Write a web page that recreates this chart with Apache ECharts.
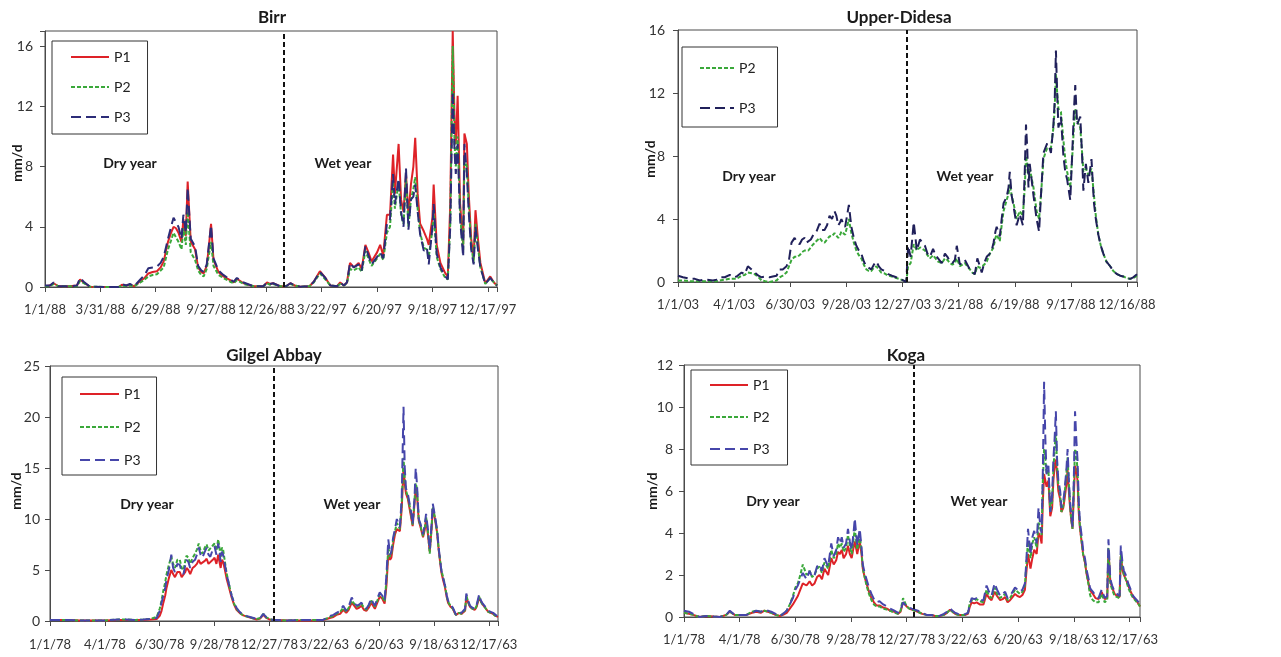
<!DOCTYPE html>
<html>
<head>
<meta charset="utf-8">
<title>Daily flow P1 P2 P3 - dry and wet year</title>
<script src="https://cdn.jsdelivr.net/npm/echarts@6/dist/echarts.min.js"></script>
<style>
  html, body { margin: 0; padding: 0; background: #fff; }
  #main { width: 1281px; height: 657px; }
</style>
</head>
<body>
<div id="main"></div>
<script>
// tick labels (one every 90 days, dry year followed by wet year)
const birrTicks = ['1/1/88', '3/31/88', '6/29/88', '9/27/88', '12/26/88', '3/22/97', '6/20/97', '9/18/97', '12/17/97'];
const didesaTicks = ['1/1/03', '4/1/03', '6/30/03', '9/28/03', '12/27/03', '3/21/88', '6/19/88', '9/17/88', '12/16/88'];
const gilgelTicks = ['1/1/78', '4/1/78', '6/30/78', '9/28/78', '12/27/78', '3/22/63', '6/20/63', '9/18/63', '12/17/63'];
const kogaTicks = ['1/1/78', '4/1/78', '6/30/78', '9/28/78', '12/27/78', '3/22/63', '6/20/63', '9/18/63', '12/17/63'];

// ---- Birr ----
const birrDays = [0,8,14,22,40,52,57,63,73,100,120,125,132,138,145,155,162,168,175,182,188,193,200,205,209,213,217,222,225,229,232,237,244,249,254,258,263,266,270,274,282,290,301,307,312,323,339,355,361,366,371,382,392,399,406,415,430,437,447,456,464,475,480,486,491,496,502,510,515,521,526,531,540,545,550,556,561,566,569,575,579,583,587,591,595,599,602,606,610,616,621,624,630,632,637,643,651,655,659,663,666,668,671,675,680,682,686,689,693,697,700,704,708,716,724,730,735];
const birrP1 = [0.05,0.1,0.25,0.05,0.05,0.1,0.5,0.3,0.02,0,
  0,0.15,0.1,0.15,0.05,0.4,0.6,0.9,1.0,1.05,
  1.3,1.7,3.0,3.6,4.0,3.9,3.6,3.0,4.5,3.4,
  7.0,3.0,2.5,1.3,1.0,0.9,1.4,2.5,4.2,1.8,
  1.0,0.7,0.45,0.3,0.55,0.25,0.05,0.05,0.3,0.2,
  0.25,0.05,0.05,0.25,0.1,0.02,0.05,0.35,1.05,0.6,
  0.1,0.05,0.3,0.1,0.3,1.6,1.3,1.6,1.2,2.8,
  2.3,1.7,2.3,2.8,2.1,4.8,4.8,8.8,6.2,9.5,
  5.8,5.0,7.5,4.8,6.8,8.0,9.9,6.2,4.2,3.7,
  3.2,2.8,4.6,6.8,2.8,1.6,0.9,0.7,5.5,17.0,
  11.0,9.5,12.7,5.5,2.8,10.2,9.5,6.2,3.2,1.9,
  5.1,3.2,1.6,0.25,0.7,0.3,0.1];
const birrP2 = [0.05,0.05,0.2,0.05,0.05,0.05,0.4,0.25,0.02,0,
  0,0.1,0.05,0.1,0.05,0.3,0.5,0.7,0.8,0.85,
  1.1,1.3,2.5,3.1,3.6,3.3,3.0,2.5,3.9,2.8,
  5.0,2.3,1.8,1.1,0.8,0.7,1.2,2.0,3.0,1.4,
  0.8,0.6,0.35,0.25,0.45,0.2,0.05,0.05,0.25,0.15,
  0.2,0.05,0.05,0.2,0.1,0.02,0.05,0.3,0.9,0.5,
  0.1,0.05,0.2,0.1,0.25,1.2,1.1,1.3,1.0,2.4,
  1.9,1.4,1.9,2.2,1.8,3.6,4.0,7.0,5.2,7.0,
  4.8,4.2,7.2,4.0,5.8,6.5,7.3,5.2,3.6,2.6,
  2.5,2.0,3.8,5.0,2.0,1.2,0.6,0.5,4.2,16.0,
  9.5,8.0,10.0,4.8,2.3,8.5,8.0,5.5,2.8,1.6,
  4.2,2.7,1.3,0.2,0.6,0.3,0.1];
const birrP3 = [0.1,0.1,0.3,0.05,0.05,0.1,0.6,0.35,0.02,0,
  0,0.2,0.1,0.2,0.05,0.5,0.8,1.25,1.3,1.35,
  1.6,2.0,3.2,4.0,4.6,4.3,4.0,3.2,4.8,3.6,
  6.6,3.2,2.7,1.4,1.1,1.0,1.5,2.6,4.1,1.9,
  1.1,0.8,0.5,0.35,0.6,0.3,0.05,0.05,0.3,0.2,
  0.25,0.05,0.05,0.25,0.1,0.02,0.05,0.35,1.0,0.6,
  0.1,0.05,0.3,0.1,0.3,1.6,1.3,1.5,1.1,2.7,
  2.1,1.5,2.0,2.3,1.9,4.2,4.5,7.5,5.5,7.2,
  5.0,4.0,7.9,3.8,5.8,6.0,6.8,5.0,3.5,2.4,
  2.6,1.5,4.0,5.5,2.2,1.3,0.7,0.5,4.0,13.0,
  9.0,7.5,9.5,4.5,2.0,9.5,7.5,5.0,2.5,1.5,
  4.0,2.5,1.3,0.2,0.6,0.3,0.1];

// ---- Upper-Didesa ----
const didesaDays = [0,8,19,27,35,45,56,62,67,75,83,89,94,102,107,112,118,123,129,134,140,147,152,158,163,168,174,178,182,187,191,195,199,203,206,209,213,217,222,227,231,235,239,243,247,251,254,257,260,262,265,268,271,274,278,282,286,290,294,298,302,306,310,314,318,322,326,331,337,343,350,355,361,366,369,373,378,383,388,392,396,400,404,409,413,417,423,428,432,436,440,444,447,452,456,460,464,468,472,476,480,484,487,491,495,500,503,506,509,511,516,519,522,527,530,532,535,538,543,548,553,556,558,560,562,564,567,570,575,579,582,586,589,592,595,598,602,604,606,608,610,614,618,621,624,629,633,635,637,640,645,648,650,654,658,663,667,670,674,678,682,687,693,698,704,709,714,720,725,730,733,736];
const didesaP2 = [0.1,0.1,0.05,0.05,0.05,0.05,0.05,0.05,0.1,0.15,
  0.2,0.2,0.2,0.4,0.45,0.6,0.55,0.5,0.3,0.1,
  0.05,0.0,0.05,0.1,0.3,0.4,0.6,1.0,1.4,1.6,
  1.6,1.7,1.9,2.0,1.9,2.0,2.2,2.4,2.6,2.8,
  2.6,2.5,2.7,2.9,2.9,3.1,3.0,2.8,3.0,3.2,
  3.1,3.0,3.5,4.0,3.1,2.5,2.0,1.7,1.5,1.1,
  0.8,0.7,0.7,0.9,1.0,0.8,0.6,0.55,0.4,0.35,
  0.25,0.2,0.1,0.0,1.0,1.2,2.4,2.0,2.2,2.1,
  2.0,1.7,1.5,1.7,1.5,1.3,1.2,1.5,1.4,1.2,
  1.1,1.2,1.5,1.0,1.1,1.2,1.0,0.8,0.6,0.5,
  1.0,0.9,0.8,1.1,1.3,1.8,2.0,2.2,2.8,3.0,
  2.6,3.6,4.5,5.2,5.6,6.2,5.5,5.0,4.0,4.5,
  4.2,6.0,8.0,7.5,6.8,7.2,6.6,6.0,4.5,4.0,
  5.5,7.8,8.2,8.5,8.6,8.5,9.8,11.0,13.2,12.0,
  11.0,10.8,9.0,7.8,7.0,6.0,8.5,10.0,11.0,10.2,
  9.8,8.2,7.0,7.2,6.8,7.2,5.5,4.2,3.0,2.3,
  1.8,1.3,1.0,0.7,0.5,0.4,0.35,0.25,0.2,0.25,
  0.3,0.4];
const didesaP3 = [0.4,0.3,0.2,0.2,0.1,0.15,0.1,0.15,0.3,0.3,
  0.45,0.3,0.35,0.6,0.5,1.0,0.8,0.6,0.4,0.3,
  0.35,0.3,0.35,0.4,0.8,0.8,1.0,1.4,2.5,2.8,
  2.5,2.4,2.7,2.8,2.5,2.6,2.7,3.0,3.2,3.7,
  3.3,3.3,3.6,4.2,4.0,4.5,4.2,3.6,3.8,4.0,
  3.7,3.5,4.2,4.9,3.5,2.8,2.3,2.0,1.8,1.3,
  1.0,0.9,0.8,1.1,1.3,1.0,0.8,0.7,0.5,0.4,
  0.3,0.25,0.1,0.0,2.3,1.6,3.8,2.0,2.7,2.5,
  2.3,1.8,1.6,2.1,1.7,1.5,1.2,1.8,1.6,1.3,
  1.2,1.4,2.3,1.1,1.3,1.4,1.1,0.8,0.6,0.5,
  1.5,1.0,0.6,1.2,1.6,1.8,2.0,2.5,3.2,3.5,
  2.9,4.0,5.0,5.4,6.0,7.0,5.5,4.8,3.6,4.3,
  3.6,7.0,10.0,8.5,6.0,7.5,6.5,5.5,4.0,3.2,
  5.5,8.2,8.5,8.8,8.6,8.2,10.0,11.5,14.7,12.0,
  9.8,10.5,8.0,7.0,6.5,5.2,9.0,11.0,12.5,10.0,
  10.5,8.0,5.8,7.5,6.3,7.8,5.0,4.0,3.0,2.3,
  1.8,1.3,1.0,0.7,0.5,0.4,0.35,0.25,0.2,0.3,
  0.35,0.5];

// ---- Gilgel Abbay ----
const gilgelDays = [0,15,30,50,70,90,112,125,140,153,165,175,180,183,186,189,191,195,199,202,205,209,213,216,219,222,224,227,230,234,238,241,244,247,250,254,257,260,263,267,270,273,276,278,280,282,284,287,290,294,298,302,306,311,317,322,328,334,339,345,350,355,360,366,372,390,410,430,448,454,459,465,470,476,481,486,490,495,499,503,507,511,515,519,523,527,530,533,537,541,545,549,552,555,558,560,563,566,569,572,574,577,580,582,584,587,590,593,595,598,600,602,605,608,612,615,617,620,623,626,628,631,635,638,642,645,648,651,653,657,661,664,666,669,671,675,678,681,683,686,689,693,697,700,704,707,710,714,719,723,727,731,735];
const gilgelP1 = [0.1,0.1,0.1,0.05,0.05,0.05,0.1,0.1,0.1,0.1,
  0.15,0.2,0.5,1.0,1.8,2.5,3.2,4.2,5.0,4.6,
  4.3,4.8,4.8,4.3,4.2,4.8,5.2,5.0,4.6,5.2,
  5.4,5.6,6.0,5.6,5.5,5.9,6.1,5.6,5.5,6.0,
  6.2,5.6,6.5,5.8,5.2,6.0,5.8,5.0,4.1,3.2,
  2.3,1.6,1.1,0.8,0.55,0.45,0.35,0.25,0.15,0.25,
  0.6,0.3,0.15,0.1,0.1,0.05,0.05,0.05,0.1,0.2,
  0.3,0.4,0.6,0.7,1.1,0.8,1.1,1.8,1.5,1.2,
  1.3,1.5,1.1,1.0,1.3,1.8,1.5,1.2,1.8,2.4,
  2.2,1.7,3.5,6.5,6.0,6.2,7.5,8.5,9.0,9.0,
  8.8,11.0,15.0,13.5,12.5,12.0,11.0,10.0,9.3,11.5,
  13.0,12.5,9.8,9.2,8.2,9.0,10.0,8.5,6.8,9.0,
  11.0,10.2,8.7,6.8,4.8,4.0,3.3,2.3,1.8,1.4,
  1.2,0.8,0.6,0.7,0.8,0.7,0.6,1.0,2.4,1.8,
  1.4,1.2,1.1,1.4,2.3,1.9,1.6,1.3,0.9,0.8,
  0.7,0.5,0.4];
const gilgelP2 = [0.1,0.1,0.1,0.05,0.05,0.05,0.15,0.15,0.1,0.15,
  0.2,0.4,1.2,2.0,3.0,3.8,4.5,5.5,6.3,5.6,
  5.2,6.0,6.0,5.2,5.0,5.9,6.4,6.2,5.6,6.2,
  6.6,7.0,7.6,6.9,6.6,7.2,7.5,6.9,6.8,7.4,
  7.6,6.9,8.0,7.2,6.2,7.2,7.0,5.8,4.6,3.5,
  2.5,1.7,1.2,0.8,0.55,0.45,0.35,0.25,0.2,0.3,
  0.7,0.35,0.2,0.1,0.1,0.05,0.1,0.1,0.1,0.25,
  0.4,0.5,0.7,0.9,1.3,0.9,1.3,2.0,1.7,1.4,
  1.5,1.7,1.3,1.1,1.5,2.0,1.7,1.4,2.0,2.6,
  2.4,1.9,4.0,7.2,6.3,6.6,8.0,8.8,9.6,9.3,
  9.0,11.5,16.0,14.0,12.8,12.2,11.3,10.2,9.4,11.8,
  13.5,13.0,9.9,9.3,8.3,9.2,10.2,8.8,6.6,9.2,
  11.2,10.3,8.8,6.9,5.0,4.3,3.5,2.4,1.9,1.5,
  1.2,0.8,0.6,0.7,0.8,0.7,0.6,1.1,2.5,1.9,
  1.4,1.2,1.1,1.5,2.4,1.9,1.6,1.3,0.9,0.8,
  0.7,0.5,0.4];
const gilgelP3 = [0.1,0.1,0.1,0.05,0.05,0.05,0.15,0.15,0.1,0.15,
  0.2,0.3,1.0,1.8,2.5,3.2,4.0,5.0,6.5,5.2,
  4.8,5.6,5.5,4.8,4.6,5.5,6.0,5.8,5.2,5.8,
  6.0,6.5,7.2,6.5,6.2,6.8,7.2,6.5,6.3,7.0,
  7.3,6.5,7.6,6.8,5.8,6.8,6.5,5.5,4.5,3.5,
  2.5,1.8,1.3,0.9,0.6,0.5,0.4,0.3,0.2,0.3,
  0.7,0.35,0.2,0.1,0.1,0.05,0.1,0.1,0.1,0.3,
  0.5,0.6,0.8,1.0,1.5,1.0,1.4,2.3,1.8,1.5,
  1.6,1.8,1.4,1.2,1.6,2.2,1.8,1.5,2.2,2.8,
  2.5,2.0,4.5,8.0,6.5,6.8,8.2,9.0,10.0,9.5,
  9.2,12.0,21.0,15.0,13.0,12.5,11.5,10.5,9.5,12.0,
  15.0,13.5,10.0,9.5,8.5,9.5,10.5,9.0,7.0,9.5,
  11.5,10.5,9.0,7.0,5.0,4.2,3.5,2.5,2.0,1.6,
  1.3,0.9,0.6,0.8,0.9,0.8,0.7,1.2,2.7,2.0,
  1.5,1.3,1.2,1.6,2.6,2.0,1.7,1.4,1.0,0.9,
  0.8,0.6,0.4];

// ---- Koga ----
const kogaDays = [0,8,15,25,36,48,58,68,74,82,92,101,110,117,124,130,141,148,155,160,166,171,176,180,184,188,192,198,203,207,211,215,219,223,227,233,238,242,246,249,252,255,258,262,265,268,271,274,276,280,284,287,289,292,295,299,303,307,311,316,322,328,333,340,346,350,354,357,360,364,368,373,378,385,392,400,406,413,420,425,430,434,438,443,449,455,459,462,465,469,473,478,484,489,493,497,502,506,511,515,519,523,527,531,535,539,543,547,551,553,556,560,563,566,570,573,576,578,580,582,584,586,589,592,595,597,599,601,603,605,608,610,613,615,618,620,622,624,626,628,630,632,634,636,638,640,643,645,648,651,654,656,658,661,665,670,675,680,684,686,689,692,696,700,704,706,709,711,714,718,722,726,729,732,735,737];
const kogaP1 = [0.2,0.15,0.1,0.0,0.05,0.02,0.0,0.1,0.25,0.1,
  0.1,0.1,0.2,0.25,0.2,0.3,0.2,0.1,0.05,0.1,
  0.2,0.4,0.6,0.8,1.0,1.3,1.6,1.5,1.7,1.5,
  1.6,1.9,2.0,1.8,2.3,2.0,2.8,2.5,2.7,3.1,
  3.0,3.2,2.8,3.0,3.4,3.0,2.8,3.3,3.6,3.0,
  3.6,3.0,2.3,1.9,1.6,1.2,0.9,0.7,0.55,0.55,
  0.45,0.4,0.3,0.25,0.15,0.25,0.7,0.6,0.5,0.4,
  0.35,0.3,0.25,0.15,0.1,0.1,0.05,0.05,0.1,0.2,
  0.35,0.25,0.15,0.1,0.1,0.1,0.15,0.5,0.7,0.65,
  0.7,0.6,0.6,1.1,0.9,0.8,1.2,1.0,0.8,0.85,
  0.95,0.7,0.8,0.95,1.1,1.0,0.95,1.05,1.3,2.0,
  3.0,2.3,2.8,3.2,3.0,4.0,3.8,3.5,5.5,6.8,
  6.5,6.2,6.5,4.8,5.2,6.5,7.2,7.5,6.8,6.0,
  5.6,5.0,5.2,5.6,6.3,7.0,6.0,5.2,4.6,4.2,
  5.8,7.2,7.0,6.5,5.0,4.2,3.5,3.0,2.6,2.0,
  1.6,1.3,1.2,1.1,0.9,0.85,1.2,0.85,0.9,3.2,
  1.7,1.4,1.1,1.0,0.95,2.9,2.2,2.0,1.8,1.5,
  1.2,0.95,0.85,0.75,0.6,0.5];
const kogaP2 = [0.2,0.15,0.1,0.0,0.05,0.02,0.0,0.1,0.25,0.1,
  0.1,0.1,0.25,0.3,0.25,0.3,0.2,0.1,0.05,0.15,
  0.3,0.6,1.0,1.4,1.6,2.0,2.5,2.0,2.2,1.9,
  2.0,2.3,2.4,2.1,2.6,2.3,3.2,2.8,3.0,3.5,
  3.3,3.5,3.1,3.3,3.9,3.4,3.0,3.7,4.2,3.2,
  3.9,3.1,2.3,1.9,1.5,1.1,0.8,0.6,0.5,0.5,
  0.4,0.35,0.3,0.2,0.15,0.3,0.9,0.7,0.5,0.4,
  0.35,0.3,0.25,0.15,0.1,0.1,0.05,0.05,0.1,0.2,
  0.35,0.25,0.15,0.1,0.1,0.1,0.2,0.7,0.8,0.8,
  0.85,0.75,0.7,1.3,1.0,0.9,1.4,1.1,0.9,1.0,
  1.1,0.8,0.9,1.1,1.3,1.2,1.1,1.2,1.5,2.4,
  3.6,2.8,3.5,3.8,3.3,4.5,4.2,3.9,6.5,8.0,
  7.5,6.8,7.0,5.0,5.5,7.0,8.0,8.8,7.2,6.3,
  5.8,5.0,5.3,5.8,6.8,7.6,6.3,5.3,4.6,4.2,
  6.2,8.0,7.8,7.0,5.2,4.3,3.5,3.0,2.6,2.0,
  1.5,1.1,0.9,0.8,0.7,0.7,1.1,0.7,0.8,3.3,
  1.6,1.3,1.0,0.95,0.9,3.0,2.3,2.0,1.8,1.4,
  1.1,0.9,0.8,0.7,0.6,0.5];
const kogaP3 = [0.3,0.25,0.15,0.0,0.05,0.02,0.0,0.1,0.3,0.1,
  0.1,0.1,0.2,0.3,0.25,0.35,0.25,0.15,0.05,0.15,
  0.3,0.6,0.9,1.3,1.5,1.8,2.1,1.8,2.2,1.9,
  2.0,2.4,2.5,2.2,2.8,2.4,3.5,2.9,3.2,3.8,
  3.5,3.8,3.3,3.5,4.2,3.6,3.2,4.0,4.7,3.4,
  4.2,3.3,2.5,2.1,1.8,1.4,1.1,0.85,0.7,0.75,
  0.6,0.5,0.4,0.3,0.2,0.3,0.7,0.6,0.5,0.45,
  0.4,0.35,0.3,0.2,0.1,0.1,0.05,0.05,0.15,0.25,
  0.4,0.3,0.2,0.15,0.1,0.15,0.2,0.6,0.9,0.85,
  0.9,0.8,0.8,1.5,1.2,1.0,1.6,1.3,1.0,1.1,
  1.2,0.9,1.0,1.2,1.4,1.3,1.2,1.3,1.6,2.5,
  4.2,3.0,3.8,4.1,3.5,5.2,4.3,4.0,7.0,11.2,
  8.5,6.8,7.2,5.0,5.8,7.5,8.5,9.8,7.5,6.5,
  6.0,5.2,5.5,6.0,7.0,8.0,6.5,5.5,4.8,4.3,
  6.5,9.8,8.5,7.5,5.5,4.5,3.8,3.2,2.8,2.2,
  1.8,1.4,1.3,1.2,1.0,0.9,1.3,0.9,1.0,3.7,
  1.8,1.5,1.2,1.1,1.0,3.4,2.5,2.2,2.0,1.6,
  1.3,1.0,0.9,0.8,0.7,0.6];

const FONT = 'Lato, "Open Sans", "Liberation Sans", sans-serif';

// line look per scenario
const lineLook = {
  P1: { color: '#de2228', type: 'solid' },
  P2: { color: '#3aa83a', type: [4, 2] },
  P3: { color: '#34348e', type: [10, 5] }
};

const panels = [
  {
    key: 'Birr', title: 'Birr', ticks: birrTicks, days: birrDays,
    lines: [['P1', birrP1], ['P2', birrP2], ['P3', birrP3]],
    xmax: 735, ymax: 17, yint: 4, split: 389, p3: '#2c2c78',
    box: [45, 31, 452, 256], xMargin: 16, yMargin: 12,
    legend: { left: 52, top: 41, padding: [9, 17, 10, 18], gap: 16, w: 38 },
    titlePos: [272, 18], dryPos: [130, 163], wetPos: [343, 163], unitPos: [17, 163]
  },
  {
    key: 'Didesa', title: 'Upper-Didesa', ticks: didesaTicks, days: didesaDays,
    lines: [['P2', didesaP2], ['P3', didesaP3]],
    xmax: 736, ymax: 16, yint: 4, split: 366, p3: '#20205a',
    box: [678, 30, 459, 252], xMargin: 16, yMargin: 13,
    legend: { left: 682, top: 47, padding: [14, 22, 12, 17], gap: 26, w: 34 },
    titlePos: [899, 18], dryPos: [749, 176], wetPos: [965, 176], unitPos: [650, 159]
  },
  {
    key: 'Gilgel', title: 'Gilgel Abbay', ticks: gilgelTicks, days: gilgelDays,
    lines: [['P1', gilgelP1], ['P2', gilgelP2], ['P3', gilgelP3]],
    xmax: 735, ymax: 25, yint: 5, split: 367, p3: '#4646aa',
    box: [50, 366, 448, 255], xMargin: 17, yMargin: 10,
    legend: { left: 62, top: 377, padding: [10, 16, 8, 17], gap: 19, w: 39 },
    titlePos: [274, 356], dryPos: [147, 504], wetPos: [352, 504], unitPos: [16, 491]
  },
  {
    key: 'Koga', title: 'Koga', ticks: kogaTicks, days: kogaDays,
    lines: [['P1', kogaP1], ['P2', kogaP2], ['P3', kogaP3]],
    xmax: 737, ymax: 12, yint: 2, split: 371, p3: '#4646aa',
    box: [684, 365, 456, 252], xMargin: 16, yMargin: 11,
    legend: { left: 691, top: 370, padding: [8, 18, 9, 18], gap: 18, w: 38 },
    titlePos: [906, 356], dryPos: [773, 501], wetPos: [979, 501], unitPos: [652, 491]
  }
];

const grids = [], xAxes = [], yAxes = [], series = [], legends = [], graphics = [];

function txt(pos, text, size, rot) {
  return {
    type: 'text', x: pos[0], y: pos[1], z: 100, rotation: rot || 0,
    style: { text: text, fill: '#1a1a1a', font: 'bold ' + size + 'px ' + FONT, textAlign: 'center', textVerticalAlign: 'middle' }
  };
}

panels.forEach((p, k) => {
  grids.push({
    left: p.box[0], top: p.box[1], width: p.box[2], height: p.box[3],
    show: true, borderColor: '#4a4a4a', borderWidth: 1, containLabel: false
  });
  xAxes.push({
    gridIndex: k, type: 'value', min: 0, max: p.xmax, interval: 90,
    axisLine: { show: true, onZero: false, lineStyle: { color: '#4a4a4a' } },
    axisTick: { show: true, length: 5, lineStyle: { color: '#4a4a4a' } },
    splitLine: { show: false },
    axisLabel: {
      margin: p.xMargin, color: '#333', fontSize: 13, fontFamily: FONT,
      formatter: v => (v % 90 === 0 ? p.ticks[v / 90] : '')
    }
  });
  yAxes.push({
    gridIndex: k, type: 'value', min: 0, max: p.ymax, interval: p.yint,
    axisLine: { show: true, lineStyle: { color: '#4a4a4a' } },
    axisTick: { show: true, length: 5, lineStyle: { color: '#4a4a4a' } },
    splitLine: { show: false },
    axisLabel: {
      margin: p.yMargin, color: '#333', fontSize: 14, fontFamily: FONT,
      formatter: v => (v % p.yint === 0 ? String(v) : '')
    }
  });

  const names = [];
  p.lines.forEach(([name, vals], i) => {
    const look = lineLook[name];
    const color = name === 'P3' ? p.p3 : look.color;
    const s = {
      name: p.key + ' ' + name,
      type: 'line', xAxisIndex: k, yAxisIndex: k,
      data: p.days.map((d, j) => [d, vals[j]]),
      showSymbol: false, symbol: 'none',
      color: color,
      lineStyle: { color: color, width: 2, type: look.type },
      emphasis: { disabled: true }
    };
    if (i === 0) {
      // dry / wet year divider
      s.markLine = {
        silent: true, symbol: ['none', 'none'], label: { show: false },
        lineStyle: { color: '#111', width: 2, type: [5, 3] },
        data: [{ xAxis: p.split }]
      };
    }
    series.push(s);
    names.push(s.name);
  });

  legends.push({
    orient: 'vertical', left: p.legend.left, top: p.legend.top,
    padding: p.legend.padding, itemGap: p.legend.gap,
    itemWidth: p.legend.w, itemHeight: 14,
    backgroundColor: '#fff', borderColor: '#333', borderWidth: 1, borderRadius: 0,
    selectedMode: false, data: names,
    formatter: n => n.split(' ').pop(),
    itemStyle: { opacity: 0 },
    textStyle: { fontSize: 14, lineHeight: 14, color: '#222', fontFamily: FONT }
  });

  graphics.push(txt(p.titlePos, p.title, 17));
  graphics.push(txt(p.dryPos, 'Dry year', 14));
  graphics.push(txt(p.wetPos, 'Wet year', 14));
  graphics.push(txt(p.unitPos, 'mm/d', 14, Math.PI / 2));
});

const chart = echarts.init(document.getElementById('main'), null, { renderer: 'canvas' });
chart.setOption({
  animation: false,
  backgroundColor: '#fff',
  grid: grids,
  xAxis: xAxes,
  yAxis: yAxes,
  legend: legends,
  series: series,
  graphic: graphics
});
window.addEventListener('resize', function () { chart.resize(); });
</script>
</body>
</html>
